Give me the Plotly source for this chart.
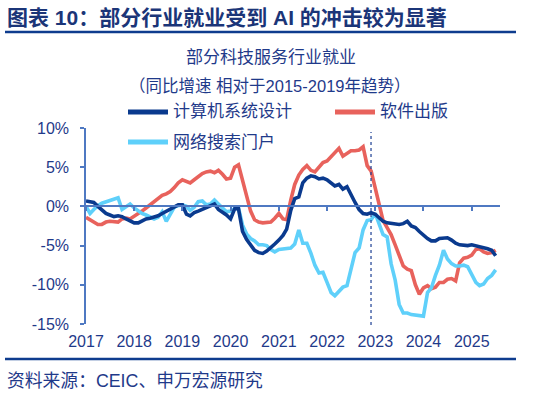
import plotly.graph_objects as go
import pandas as pd

# ---------------- data ----------------
start_month = "2017-01-01"
n_months = 103  # Jan 2017 .. Jul 2025
months = pd.date_range(start_month, periods=n_months, freq="MS")

series_names = ["计算机系统设计", "软件出版", "网络搜索门户"]

computer_design = [
    0.7, 0.6, 0.5, 0.0, -0.5, -0.9, -1.1, -1.3, -1.2, -1.3,
    -1.6, -1.9, -2.1, -2.1, -1.8, -1.6, -1.5, -1.4, -1.2, -0.9,
    -0.6, -0.3, -0.1, 0.2, 0.2, -1.0, -1.2, -0.8, -0.6, -0.4,
    -0.1, 0.1, 0.3, -0.4, -0.7, -1.1, -1.6, -0.3, -0.3, -3.2,
    -4.2, -5.0, -5.6, -5.9, -6.0, -5.7, -5.3, -4.8, -4.3, -3.7,
    -2.9, -0.5, 1.0, 1.2, 3.0, 3.6, 3.9, 3.8, 3.5, 3.6,
    3.4, 3.0, 2.6, 2.8, 2.2, 2.5, 1.4, 0.5, -0.4, -0.9,
    -1.0, -0.8, -1.0, -1.5, -1.9, -2.1, -2.2, -2.2, -2.3, -2.2,
    -1.9, -2.5, -2.7, -3.2, -3.7, -4.1, -4.4, -4.4, -4.1, -4.1,
    -4.0, -4.3, -4.7, -4.9, -5.0, -5.0, -4.9, -5.0, -5.1, -5.3,
    -5.4, -5.6, -6.3,
]

software_publishing = [
    -1.4, -1.7, -1.9, -2.3, -2.3, -2.0, -1.9, -2.0, -2.0, -1.6,
    -1.5, -1.6, -1.3, -1.0, -0.6, -0.2, 0.2, 0.7, 1.1, 1.4,
    1.6, 1.9, 2.4, 3.0, 3.4, 3.2, 3.0, 3.4, 3.8, 4.2,
    4.4, 4.5, 4.3, 4.6, 4.1, 3.5, 3.6, 5.0, 5.3, 3.2,
    1.3, -0.6, -1.7, -2.0, -2.1, -2.0, -2.0, -1.5, -0.9, -1.6,
    -1.7, 0.8, 2.8, 4.0, 4.7, 5.2, 4.6, 4.4, 5.1, 5.6,
    5.8, 6.3, 6.8, 7.4, 6.4, 6.8, 7.1, 7.1, 7.2, 7.6,
    5.2, 4.5, 2.2, 0.0, -1.8, -2.7, -3.6, -4.9, -6.4, -7.6,
    -8.0, -8.2, -10.0, -11.2, -10.4, -10.1, -10.5, -10.3, -9.7, -9.7,
    -9.3, -9.2, -9.5, -7.2, -6.6, -6.5, -6.2, -5.5, -5.4, -5.8,
    -6.0, -5.9, -5.6,
]

search_portals = [
    0.0, -0.9, -0.4, 0.1, 0.4, 0.6, 0.8, 1.0, 1.1, -0.4,
    0.0, 0.3, -0.2, -0.6, -0.9, -1.1, -1.4, -1.6, -1.4, -0.7,
    -1.9, -0.9, -0.1, 0.1, 0.2, 0.0, -0.5, -0.1, 0.6, 0.7,
    0.2, 0.3, 0.8, 0.3, -0.2, -0.7, -0.6, -0.3, -0.2, -2.4,
    -3.5, -4.1, -4.4, -4.9, -4.9, -5.0, -5.5, -5.8, -5.5, -5.4,
    -5.4, -5.3, -4.8, -3.0, -4.7, -4.7, -6.0, -7.5, -8.5, -8.4,
    -9.7, -11.0, -11.4, -10.9, -10.3, -10.1, -8.2, -5.9, -5.3, -3.0,
    -1.8, -1.7, -0.9, -2.3, -3.6, -3.9, -7.3, -9.4, -12.5, -13.6,
    -13.6, -13.8, -13.9, -13.9, -14.0, -11.0, -10.4, -8.8, -7.5, -5.6,
    -6.7, -7.3, -7.6, -7.6, -7.5, -7.7, -8.8, -9.7, -10.1, -9.9,
    -9.2, -8.8, -8.1,
]

year_ticks = ["2017", "2018", "2019", "2020", "2021", "2022", "2023", "2024", "2025"]
y_tick_values = [-15, -10, -5, 0, 5, 10]
y_tick_labels = ["-15%", "-10%", "-5%", "0%", "5%", "10%"]
event_date = "2022-11-30"
x_range = ["2017-01-01", "2025-08-03"]

main_title = "图表 10：部分行业就业受到 AI 的冲击较为显著"
chart_title = "部分科技服务行业就业"
chart_subtitle = "（同比增速 相对于2015-2019年趋势）"
source_text = "资料来源：CEIC、申万宏源研究"

# ---------------- style ----------------
W, H = 549, 394
L, R, T, B = 86, 49, 128, 70
PW, PH = W - L - R, H - T - B

NAVY = "#1F3A8A"
RULE = "#0E3C8E"
AX = "#4F79C2"
colors = ["#0A3A8E", "#E8625C", "#5FD0FA"]
FONT = "Liberation Sans, Arial, Noto Sans CJK SC"


def px(x):
    return (x - L) / PW


def py(y):
    return (H - B - y) / PH


fig = go.Figure()
all_series = [computer_design, software_publishing, search_portals]
axes_for = ["x2", "x", "x"]
for name, vals, col, xa in zip(series_names, all_series, colors, axes_for):
    fig.add_trace(go.Scatter(
        x=months, y=vals, mode="lines", name=name, xaxis=xa,
        line=dict(color=col, width=3.6), showlegend=False,
        hoverinfo="skip",
    ))

tickvals_dates = [f"{y}-01-01" for y in year_ticks]

fig.update_layout(
    width=W, height=H,
    margin=dict(l=L, r=R, t=T, b=B, pad=0),
    paper_bgcolor="white", plot_bgcolor="white",
    font=dict(family=FONT, color=NAVY, size=16),
    showlegend=False,
    xaxis=dict(
        type="date", range=x_range, tickvals=tickvals_dates, ticktext=year_ticks,
        showgrid=False, showline=False, zeroline=False, ticks="",
        tickfont=dict(size=16, color=NAVY), ticklabelstandoff=6,
    ),
    xaxis2=dict(
        type="date", range=x_range, overlaying="x", anchor="free",
        position=(0 - y_tick_values[0]) / (y_tick_values[-1] - y_tick_values[0]),
        tickvals=tickvals_dates, showticklabels=False,
        showgrid=False, zeroline=False, showline=True,
        linecolor=AX, linewidth=1.5, ticks="outside", ticklen=4,
        tickcolor=AX, tickwidth=1.5,
    ),
    yaxis=dict(
        range=[y_tick_values[0], y_tick_values[-1]], tickvals=y_tick_values,
        ticktext=y_tick_labels, showgrid=False, zeroline=False,
        showline=True, linecolor=AX, linewidth=1.5, ticks="outside",
        ticklen=4, tickcolor=AX, tickwidth=1.5,
        tickfont=dict(size=16, color=NAVY), ticklabelstandoff=8,
    ),
)

shapes = [
    dict(type="line", xref="x", yref="paper", x0=event_date, x1=event_date,
         y0=-0.005, y1=0.98, line=dict(color="#1C3F94", width=1.2, dash="dot")),
    dict(type="line", xref="paper", yref="paper", x0=px(5), x1=px(516),
         y0=py(32), y1=py(32), line=dict(color=RULE, width=2.5)),
    dict(type="line", xref="paper", yref="paper", x0=px(5), x1=px(516),
         y0=py(359), y1=py(359), line=dict(color=RULE, width=2.5)),
]

# manual legend
legend_pos = [(128, 112), (335, 112), (128, 142)]
annotations = []
for name, col, (lx, ly) in zip(series_names, colors, legend_pos):
    shapes.append(dict(type="line", xref="paper", yref="paper",
                       x0=px(lx), x1=px(lx + 40), y0=py(ly), y1=py(ly),
                       line=dict(color=col, width=5)))
    annotations.append(dict(text=name, xref="paper", yref="paper",
                            x=px(lx + 43), y=py(ly), xanchor="left", yanchor="middle",
                            showarrow=False, font=dict(size=17, color=NAVY, family=FONT)))

annotations += [
    dict(text=f"<b>{main_title}</b>", xref="paper", yref="paper", x=px(5), y=py(17),
         xanchor="left", yanchor="middle", showarrow=False,
         font=dict(size=21, color="#1B3578", family=FONT)),
    dict(text=chart_title, xref="paper", yref="paper", x=px(271), y=py(57),
         xanchor="center", yanchor="middle", showarrow=False,
         font=dict(size=17, color=NAVY, family=FONT)),
    dict(text=chart_subtitle, xref="paper", yref="paper", x=px(270), y=py(86),
         xanchor="center", yanchor="middle", showarrow=False,
         font=dict(size=16.5, color=NAVY, family=FONT)),
    dict(text=source_text, xref="paper", yref="paper", x=px(5), y=py(381),
         xanchor="left", yanchor="middle", showarrow=False,
         font=dict(size=17.8, color=NAVY, family=FONT)),
]

fig.update_layout(shapes=shapes, annotations=annotations)
fig.write_html(
    "out.html",
    config={"displayModeBar": False},
    post_script="document.body.style.margin='0';document.body.style.padding='0';",
)
